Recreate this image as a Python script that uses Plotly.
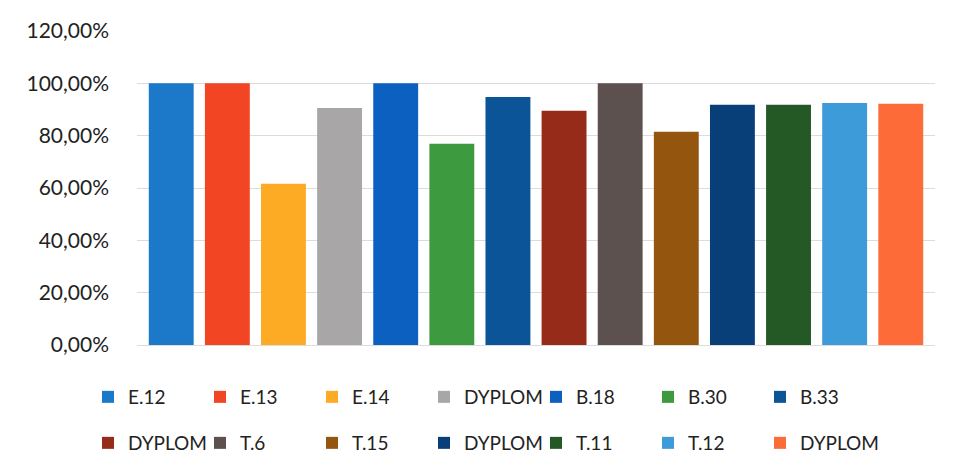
import plotly.graph_objects as go

labels = ["E.12", "E.13", "E.14", "DYPLOM", "B.18", "B.30", "B.33",
          "DYPLOM", "T.6", "T.15", "DYPLOM", "T.11", "T.12", "DYPLOM"]
values = [1.00, 1.00, 0.616, 0.906, 1.00, 0.769, 0.948,
          0.895, 1.00, 0.815, 0.918, 0.918, 0.925, 0.922]
colors = ["#1c79c9", "#f24524", "#fdab24", "#a9a6a7", "#0c60c0", "#3d9a3e", "#0b5497",
          "#972b1a", "#5c514e", "#94550f", "#083f78", "#245824", "#3e9bd9", "#fd6b38"]

# page body has an 8px default margin; lay out in figure coordinates
OFF = 8
W, H = 957 - OFF, 469 - OFF
PLOT_L, PLOT_R, PLOT_T, PLOT_B = 137 - OFF, 935 - OFF, 31 - OFF, 345 - OFF
pw = PLOT_R - PLOT_L
ph = PLOT_B - PLOT_T

LEG_X0 = 70          # left edge of first legend entry (figure px)
STEP = 112           # spacing between legend entries
ROW1, ROW2 = 397 - OFF, 443 - OFF

def legend_of(i):
    if i < 7:
        return "legend"
    if i < 13:
        return "legend2"
    return "legend3"

fig = go.Figure()
for i, (lab, v, c) in enumerate(zip(labels, values, colors)):
    fig.add_trace(go.Bar(
        x=[i], y=[v], name=lab, marker=dict(color=c, line=dict(width=0)),
        width=0.8, legend=legend_of(i),
    ))

font = "Lato, 'Noto Sans', sans-serif"
leg_common = dict(orientation="h", xanchor="left", yanchor="middle",
                  entrywidthmode="pixels", itemwidth=30,
                  borderwidth=10, bordercolor="rgba(0,0,0,0)",
                  font=dict(family=font, size=19, color="#222222"),
                  bgcolor="rgba(0,0,0,0)", traceorder="normal", itemclick=False)

def px_x(p):
    return (p - PLOT_L) / pw

def px_y(p):
    return (PLOT_B - p) / ph

fig.update_layout(
    width=W, height=H,
    margin=dict(l=PLOT_L, r=W - PLOT_R, t=PLOT_T, b=H - PLOT_B, pad=0, autoexpand=False),
    paper_bgcolor="white", plot_bgcolor="white",
    barmode="overlay", separators=", ",
    legend=dict(x=px_x(LEG_X0), y=px_y(ROW1), entrywidth=67, **leg_common),
    legend2=dict(x=px_x(LEG_X0), y=px_y(ROW2), entrywidth=67, **leg_common),
    legend3=dict(x=px_x(LEG_X0 + 6 * STEP), y=px_y(ROW2), entrywidth=95, **leg_common),
    xaxis=dict(range=[-0.61, 13.61], showticklabels=False, showgrid=False,
               zeroline=False, showline=False, ticks=""),
    yaxis=dict(range=[0, 1.2], dtick=0.2, tickformat=".2%",
               showgrid=True, gridcolor="#dcdcdc", gridwidth=1,
               zeroline=True, zerolinecolor="#dcdcdc", zerolinewidth=1,
               showline=False, ticks="", ticklabelstandoff=27,
               tickfont=dict(family=font, size=21, color="#222222")),
    showlegend=True,
)

fig.write_html("out.html")
